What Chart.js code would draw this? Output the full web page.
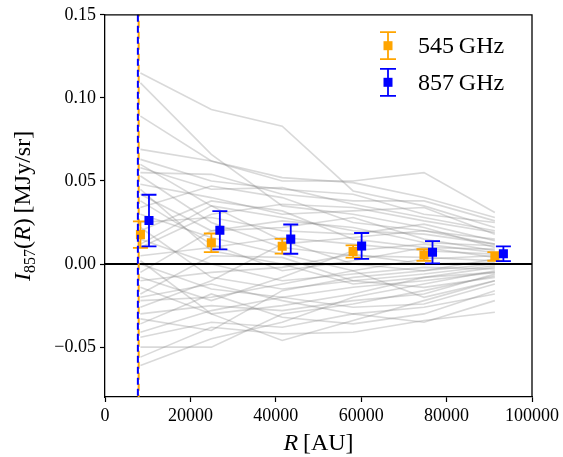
<!DOCTYPE html>
<html><head><meta charset="utf-8">
<script src="https://cdn.jsdelivr.net/npm/chart.js@4/dist/chart.umd.min.js"></script>
<style>html,body{margin:0;padding:0;background:#fff}#wrap{width:563px;height:457px;position:relative}</style>
</head><body><div id="wrap"><canvas id="c"></canvas></div>
<script>
// ---- data ----
const grayRadii = [8300, 24900, 41500, 58100, 74700, 91300];
const grayProfiles = [
  [0.115, 0.093, 0.083, 0.044, 0.035, 0.022],
  [0.109, 0.066, 0.035, 0.030, 0.022, 0.010],
  [0.089, 0.062, 0.050, 0.050, 0.055, 0.031],
  [0.069, 0.062, 0.052, 0.049, 0.040, 0.028],
  [0.063, 0.050, 0.045, 0.042, 0.030, 0.025],
  [0.060, 0.035, 0.028, 0.020, 0.018, 0.012],
  [0.058, 0.045, 0.046, 0.036, 0.028, 0.020],
  [0.053, 0.025, 0.010, 0.005, 0.004, 0.002],
  [0.048, 0.040, 0.030, 0.032, 0.034, 0.018],
  [0.042, 0.020, 0.022, 0.028, 0.015, 0.008],
  [0.034, 0.047, 0.040, 0.025, 0.020, 0.015],
  [0.030, 0.016, 0.006, -0.004, 0.003, 0.005],
  [0.025, 0.028, 0.020, 0.018, 0.024, 0.014],
  [0.020, 0.038, 0.032, 0.015, 0.010, 0.004],
  [0.015, 0.000, -0.010, -0.006, -0.002, -0.003],
  [0.010, 0.030, 0.036, 0.034, 0.026, 0.019],
  [0.005, 0.010, 0.016, 0.012, 0.008, 0.006],
  [0.000, -0.015, -0.020, -0.014, -0.010, -0.005],
  [-0.005, 0.020, 0.026, 0.022, 0.013, 0.011],
  [-0.010, -0.005, -0.002, 0.006, 0.000, 0.001],
  [-0.014, -0.030, -0.025, -0.018, -0.008, -0.002],
  [-0.018, 0.005, 0.004, -0.010, -0.014, -0.008],
  [-0.022, -0.020, -0.012, -0.004, -0.020, -0.010],
  [-0.026, -0.010, 0.012, 0.016, 0.020, 0.012],
  [-0.030, -0.025, -0.028, -0.022, -0.018, -0.006],
  [-0.033, -0.040, -0.016, -0.008, -0.004, 0.000],
  [-0.036, -0.018, -0.032, -0.036, -0.030, -0.016],
  [-0.041, -0.028, -0.020, -0.026, -0.024, -0.012],
  [-0.044, -0.035, -0.038, -0.030, -0.035, -0.022],
  [-0.050, -0.050, -0.030, -0.024, -0.016, -0.007],
  [-0.056, -0.038, -0.042, -0.041, -0.034, -0.029],
  [-0.061, -0.045, -0.035, -0.020, -0.012, -0.004],
  [0.038, 0.012, -0.004, 0.002, 0.010, 0.009],
  [0.022, -0.008, -0.015, -0.010, -0.006, -0.001],
  [0.012, 0.035, 0.014, 0.000, -0.004, 0.003],
  [-0.008, -0.022, -0.008, 0.008, 0.012, 0.007],
  [-0.020, -0.012, -0.022, -0.030, -0.026, -0.018],
  [0.055, 0.054, 0.042, 0.038, 0.038, 0.026],
  [0.045, 0.008, 0.000, -0.012, -0.008, -0.005],
  [0.002, -0.030, -0.046, -0.034, -0.022, -0.010]
];
const r545 = [8300, 24900, 41500, 58100, 74700, 91300];
const i545 = [0.0177, 0.0128, 0.0107, 0.0076, 0.0054, 0.0046];
const e545 = [0.0080, 0.0056, 0.0044, 0.0037, 0.0035, 0.0026];
const r857 = [10300, 26900, 43500, 60100, 76700, 93300];
const i857 = [0.0262, 0.0203, 0.0150, 0.0109, 0.0071, 0.0062];
const e857 = [0.0155, 0.0115, 0.0088, 0.0078, 0.0067, 0.0044];
const beamRadius = 7700;
const xTickValues = [0, 20000, 40000, 60000, 80000, 100000];
const yTickValues = [-0.05, 0.00, 0.05, 0.10, 0.15];
const seriesLabels = ['545\u2009GHz', '857\u2009GHz'];
const colors = {c545: '#FFA500', c857: '#0000FF'};

// ---- chart ----
const SERIF = '"Liberation Serif", "DejaVu Serif", serif';
const datasets = [
  {label: seriesLabels[1], type: 'scatter', data: r857.map((x, i) => ({x, y: i857[i]})),
   pointStyle: 'rect', pointRadius: 6.4, pointHoverRadius: 6.4, backgroundColor: colors.c857, borderWidth: 0,
   errs: e857, errColor: colors.c857},
  {label: seriesLabels[0], type: 'scatter', data: r545.map((x, i) => ({x, y: i545[i]})),
   pointStyle: 'rect', pointRadius: 6.4, pointHoverRadius: 6.4, backgroundColor: colors.c545, borderWidth: 0,
   errs: e545, errColor: colors.c545}
];
grayProfiles.forEach((p, k) => datasets.push({
  label: 'profile ' + (k + 1), type: 'line', data: grayRadii.map((x, i) => ({x, y: p[i]})),
  borderColor: 'rgba(128,128,128,0.30)', borderWidth: 1.6, pointRadius: 0, fill: false, tension: 0
}));

function drawErrBars(chart, ds) {
  const ctx = chart.ctx, xs = chart.scales.x, ys = chart.scales.y;
  ctx.save();
  ctx.strokeStyle = ds.errColor; ctx.lineWidth = 1.8;
  ds.data.forEach((p, i) => {
    const px = xs.getPixelForValue(p.x);
    const top = ys.getPixelForValue(p.y + ds.errs[i]);
    const bot = ys.getPixelForValue(p.y - ds.errs[i]);
    ctx.beginPath();
    ctx.moveTo(px, top); ctx.lineTo(px, bot);
    ctx.moveTo(px - 7.5, top); ctx.lineTo(px + 7.5, top);
    ctx.moveTo(px - 7.5, bot); ctx.lineTo(px + 7.5, bot);
    ctx.stroke();
  });
  ctx.restore();
}

const overlay = {
  id: 'overlay',
  beforeDatasetDraw(chart, args) {
    const ctx = chart.ctx, a = chart.chartArea, ys = chart.scales.y;
    if (args.index === 1) {
      const y0 = ys.getPixelForValue(0);
      ctx.save();
      ctx.strokeStyle = '#000'; ctx.lineWidth = 2;
      ctx.beginPath(); ctx.moveTo(a.left, y0); ctx.lineTo(a.right, y0); ctx.stroke();
      ctx.restore();
      drawErrBars(chart, chart.data.datasets[1]);
    }
    if (args.index === 0) drawErrBars(chart, chart.data.datasets[0]);
  },
  afterDatasetsDraw(chart) {
    const ctx = chart.ctx, a = chart.chartArea, xs = chart.scales.x;
    const bx = xs.getPixelForValue(beamRadius);
    ctx.save();
    // beam radius lines
    ctx.lineWidth = 2;
    ctx.strokeStyle = colors.c545; ctx.setLineDash([7, 4]); ctx.lineDashOffset = 5;
    ctx.beginPath(); ctx.moveTo(bx + 0.8, a.top); ctx.lineTo(bx + 0.8, a.bottom); ctx.stroke();
    ctx.strokeStyle = colors.c857; ctx.lineDashOffset = 0;
    ctx.beginPath(); ctx.moveTo(bx, a.top); ctx.lineTo(bx, a.bottom); ctx.stroke();
    ctx.setLineDash([]);
    // top & right frame
    ctx.strokeStyle = '#000'; ctx.lineWidth = 1.3;
    ctx.beginPath(); ctx.moveTo(a.left, a.top); ctx.lineTo(a.right, a.top); ctx.lineTo(a.right, a.bottom); ctx.stroke();
    // legend
    const legend = [[datasets[1], 45.7], [datasets[0], 82.3]];
    legend.forEach(([ds, ly]) => {
      const lx = 388;
      ctx.strokeStyle = ds.errColor; ctx.lineWidth = 1.8;
      ctx.beginPath();
      ctx.moveTo(lx, ly - 13.5); ctx.lineTo(lx, ly + 13.5);
      ctx.moveTo(lx - 8, ly - 13.5); ctx.lineTo(lx + 8, ly - 13.5);
      ctx.moveTo(lx - 8, ly + 13.5); ctx.lineTo(lx + 8, ly + 13.5);
      ctx.stroke();
      ctx.fillStyle = ds.backgroundColor;
      ctx.fillRect(lx - 4.5, ly - 4.5, 9, 9);
      ctx.fillStyle = '#000';
      ctx.font = '24px ' + SERIF;
      ctx.textBaseline = 'middle'; ctx.textAlign = 'left';
      ctx.fillText(ds.label, 418, ly + 1);
    });
    // x title
    const xParts = [['R', 'italic 24px '], ['\u2009[AU]', '24px ']];
    drawParts(ctx, xParts, (a.left + a.right) / 2, 450, 0);
    // y title
    ctx.translate(22, (a.top + a.bottom) / 2);
    ctx.rotate(-Math.PI / 2);
    const yParts = [['I', 'italic 24px '], ['857', '16px ', 5], ['(', '24px '], ['R', 'italic 24px '], [')', '24px '], ['\u2009[MJy/sr]', '24px ']];
    drawParts(ctx, yParts, 0, 8, 0);
    ctx.restore();
  }
};
function drawParts(ctx, parts, cx, baseY) {
  let w = 0;
  parts.forEach(p => { ctx.font = p[1] + SERIF; w += ctx.measureText(p[0]).width; });
  let x = cx - w / 2;
  ctx.fillStyle = '#000'; ctx.textAlign = 'left'; ctx.textBaseline = 'alphabetic';
  parts.forEach(p => {
    ctx.font = p[1] + SERIF;
    ctx.fillText(p[0], x, baseY + (p[2] || 0));
    x += ctx.measureText(p[0]).width;
  });
}

new Chart(document.getElementById('c'), {
  data: {datasets},
  options: {
    responsive: true, maintainAspectRatio: false, animation: false,
    layout: {padding: {top: 13, right: 31, left: 0, bottom: 0}},
    plugins: {legend: {display: false}, tooltip: {enabled: false}},
    scales: {
      x: {
        type: 'linear', min: 0, max: 100000,
        afterFit: s => { s.height = 60; },
        afterBuildTicks: s => { s.ticks = xTickValues.map(v => ({value: v})); },
        ticks: {font: {family: SERIF, size: 18}, color: '#000', padding: 3, maxRotation: 0,
                callback: v => String(v)},
        grid: {drawOnChartArea: false, drawTicks: true, tickLength: 5, color: '#000', tickWidth: 1.2},
        border: {display: true, color: '#000', width: 1.3}
      },
      y: {
        type: 'linear', min: -0.08, max: 0.15,
        afterFit: s => { s.width = 105; },
        afterBuildTicks: s => { s.ticks = yTickValues.map(v => ({value: v})); },
        ticks: {font: {family: SERIF, size: 18}, color: '#000', padding: 4,
                callback: v => (v < 0 ? '\u2212' : '') + Math.abs(v).toFixed(2)},
        grid: {drawOnChartArea: false, drawTicks: true, tickLength: 5, color: '#000', tickWidth: 1.2},
        border: {display: true, color: '#000', width: 1.3}
      }
    }
  },
  plugins: [overlay]
});
</script></body></html>
